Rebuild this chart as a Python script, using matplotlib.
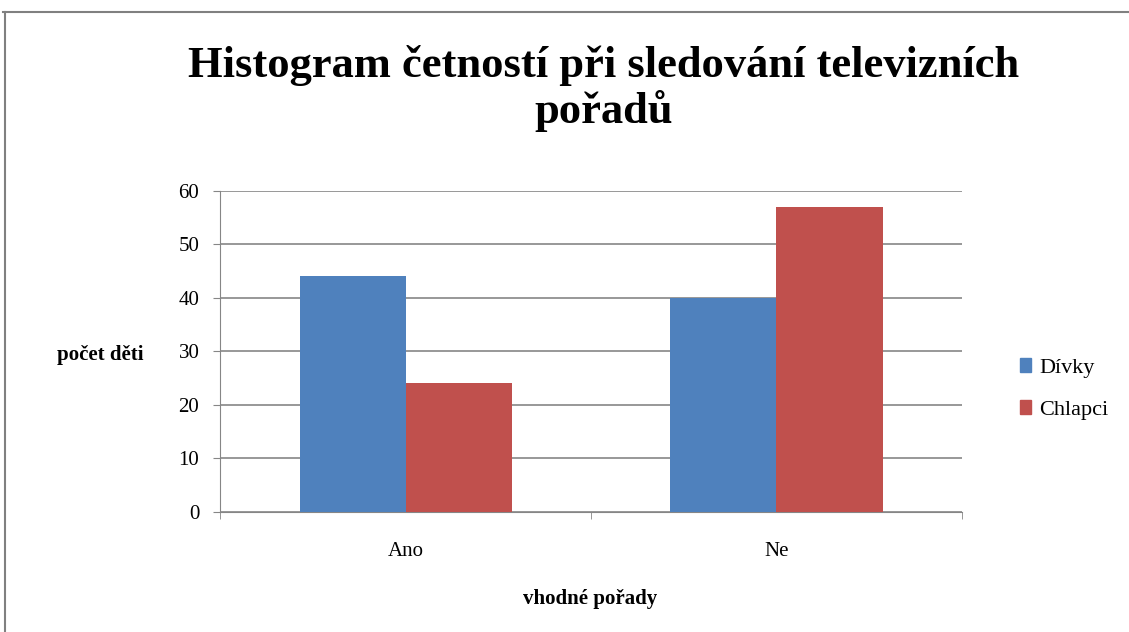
import matplotlib.pyplot as plt
import numpy as np
from matplotlib.patches import Patch

categories = ['Ano', 'Ne']
divky = [44, 40]
chlapci = [24, 57]
series_names = ['Dívky', 'Chlapci']
yticks = [0, 10, 20, 30, 40, 50, 60]

plt.rcParams['font.family'] = ['Liberation Serif', 'DejaVu Serif']

fig = plt.figure(figsize=(11.29, 6.32), dpi=100)
ax = fig.add_axes([0.195, 0.190, 0.657, 0.508])

x = np.arange(len(categories))
w = 0.286
ax.bar(x - w / 2, divky, w, color='#4F81BD', zorder=3)
ax.bar(x + w / 2, chlapci, w, color='#C0504D', zorder=3)

ax.set_xlim(-0.5, 1.5)
ax.set_ylim(0, 60)
ax.set_yticks(yticks)
ax.set_yticklabels([str(v) for v in yticks], fontsize=15)
ax.yaxis.grid(True, color='#868686', linewidth=1.2, zorder=0)
ax.set_xticks(x)
ax.set_xticklabels(categories, fontsize=15)
ax.set_xticks([-0.5, 0.5, 1.5], minor=True)
ax.tick_params(axis='x', which='major', length=0, pad=22)
ax.tick_params(axis='x', which='minor', length=5, color='#868686')
ax.tick_params(axis='y', length=5, color='#868686', pad=10)
for s in ['top', 'right']:
    ax.spines[s].set_visible(False)
ax.spines['left'].set_color('#868686')
ax.spines['bottom'].set_color('#868686')

fig.text(0.535, 0.860, 'Histogram četností při sledování televizních\npořadů',
         ha='center', va='center', fontsize=32, fontweight='bold', linespacing=1.15)
fig.text(0.089, 0.438, 'počet děti', ha='center', va='center',
         fontsize=15, fontweight='bold')
fig.text(0.523, 0.053, 'vhodné pořady', ha='center', va='center',
         fontsize=15, fontweight='bold')

handles = [Patch(color='#4F81BD'), Patch(color='#C0504D')]
fig.legend(handles, series_names, loc='center left', bbox_to_anchor=(0.886, 0.385),
           frameon=False, fontsize=16, handlelength=0.5, handleheight=0.6,
           handletextpad=0.35, labelspacing=1.0)

# outer chart frame (top and left edges only visible)
fig.add_artist(plt.Line2D([0.003, 1.0], [0.981, 0.981], color='#808080', lw=1.5))
fig.add_artist(plt.Line2D([0.004, 0.004], [0.0, 0.981], color='#808080', lw=1.5))

fig.savefig('out.png', dpi=100)
